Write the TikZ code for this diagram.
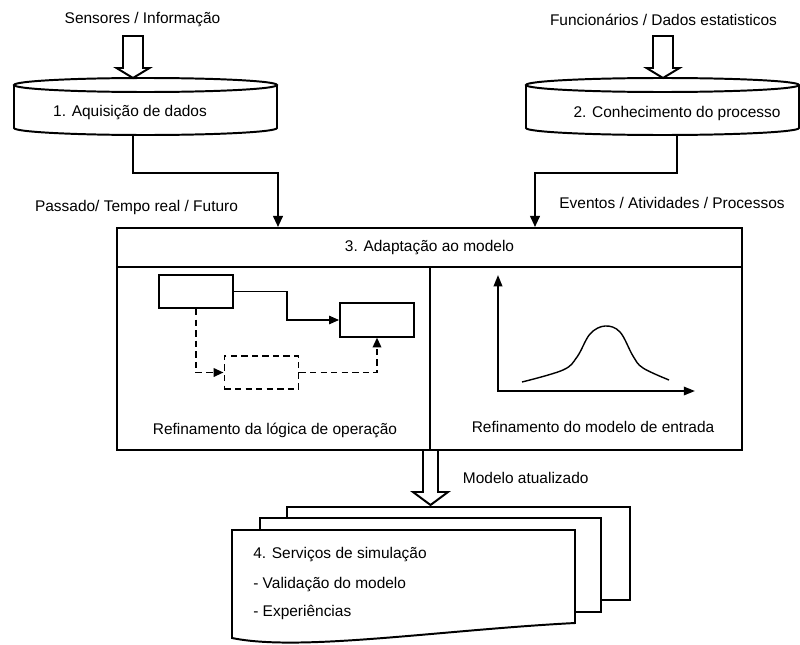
\documentclass[tikz,border=0pt]{standalone}
\usepackage{fontspec}
\setmainfont{Liberation Sans}
\usetikzlibrary{arrows.meta}

% hollow block arrow: x, y-top, y-tip, half shaft, half head, head length
\newcommand{\hollowarrow}[6]{%
  \draw[fat, fill=white] (#1-#4,#2) -- (#1+#4,#2) -- (#1+#4,#3-#6) -- (#1+#5,#3-#6)
    -- (#1,#3) -- (#1-#5,#3-#6) -- (#1-#4,#3-#6) -- cycle;}

% flat drum: x-left, x-right, y-top, y-bottom
\newcommand{\drum}[4]{%
  \draw[fat] (#1,#3) -- (#1,#4)
    arc[start angle=180, end angle=0, x radius={(#2-#1)/2}, y radius=7] -- (#2,#3);
  \draw[fat] ({(#1+#2)/2},#3) ellipse[x radius={(#2-#1)/2}, y radius=7];}

\tikzset{
  fat/.style={line width=1.4pt},
  frame/.style={draw, line width=1.4pt, inner sep=0pt},
  panel/.style={frame, minimum width=7.8cm, minimum height=4.575cm},
  opbox/.style={frame, minimum width=1.85cm, minimum height=0.83cm},
  dashedline/.style={line width=1.4pt, dash pattern=on 4.5pt off 3pt},
  thinline/.style={line width=0.8pt},
}

\begin{document}
\begin{tikzpicture}[x=0.025cm, y=-0.025cm, >={Triangle[length=8pt,width=7pt]},
  font=\fontsize{11}{13}\selectfont]

\useasboundingbox (0,0) rectangle (800,644);

% ============================
% Sources
% ============================
\node (sens) at (142.5,20) {Sensores / Informação};
\node (func) at (663.5,20) {Funcionários / Dados estatisticos};

\hollowarrow{133}{36}{78}{10}{16.5}{10}
\hollowarrow{663}{36}{78}{10}{16.5}{10}

\drum{14}{277}{85}{128}
\drum{526}{799}{85}{128}

\node (acq)  at (130,113) {1. Aquisição de dados};
\node (know) at (677,113) {2. Conhecimento do processo};

\coordinate (acqout)  at (133,135);
\coordinate (knowout) at (677,135);

% ============================
% Box 3 (header + two panels)
% ============================
\node[frame, minimum width=15.625cm, minimum height=0.975cm] (adapt) at (429.5,247.5) {3. Adaptação ao modelo};
\node[panel] (logic) at (273.5,358.5) {};
\node[panel] (input) at (586,358.5) {};

% Drums -> box 3
\draw[fat,->] (acqout) -- (133,173) -- (278,173) -- (278,173 |- adapt.north);
\draw[fat,->] (knowout) -- (677,173) -- (535,173) -- (535,173 |- adapt.north);

\node (pastlbl) at (136.5,207) {Passado/ Tempo real / Futuro};
\node (evtlbl)  at (672,203) {Eventos / Atividades / Processos};

% Left panel: operation logic
\node[opbox] (opA) at (196,291.5) {};
\node[opbox] (opB) at (377,320) {};
\node[opbox, dashedline] (opC) at (261.5,372.5) {};

\draw[thinline,-{Triangle[length=7pt,width=6pt]}] (opA.east) -- (287,291.5) |- (opB.west);
\draw[dashedline,-{Triangle[length=7pt,width=6pt]}] (opA.south) |- (opC.west);
\draw[dashedline,-{Triangle[length=7pt,width=6pt]}] (opC.east) -| (opB.south);

\node (logictxt) at (275,430) {Refinamento da lógica de operação};

% Right panel: input distribution
\coordinate (orig) at (498,391);
\draw[fat,{Triangle[length=8pt,width=6pt]}-{Triangle[length=8pt,width=6pt]}] (498,275) -- (orig) -- (695,391);
\draw[line width=1pt] plot[smooth, tension=0.6] coordinates
  {(522,382) (563,370) (577,357) (590,334) (605,326) (620,332) (633,356) (643,368) (669,380)};

\node (inputtxt) at (593,427) {Refinamento do modelo de entrada};

% ============================
% Output: simulation services
% ============================
\draw[fat, fill=white] (287,507) rectangle (630,600);
\draw[fat, fill=white] (260,518) rectangle (601,612);
\draw[fat, fill=white] (232,530) -- (575,530) -- (575,623)
  .. controls (440,630) and (300,652) .. (232,638) -- cycle;

\hollowarrow{430.5}{450}{505}{7.5}{17.5}{13}
\node[right] (updlbl) at (458,478) {Modelo atualizado};

\node[anchor=west, inner sep=0pt] (sim)    at (253,555) {4. Serviços de simulação};
\node[anchor=west, inner sep=0pt] (simval) at (253,585) {- Validação do modelo};
\node[anchor=west, inner sep=0pt] (simexp) at (253,612) {- Experiências};

\end{tikzpicture}
\end{document}
